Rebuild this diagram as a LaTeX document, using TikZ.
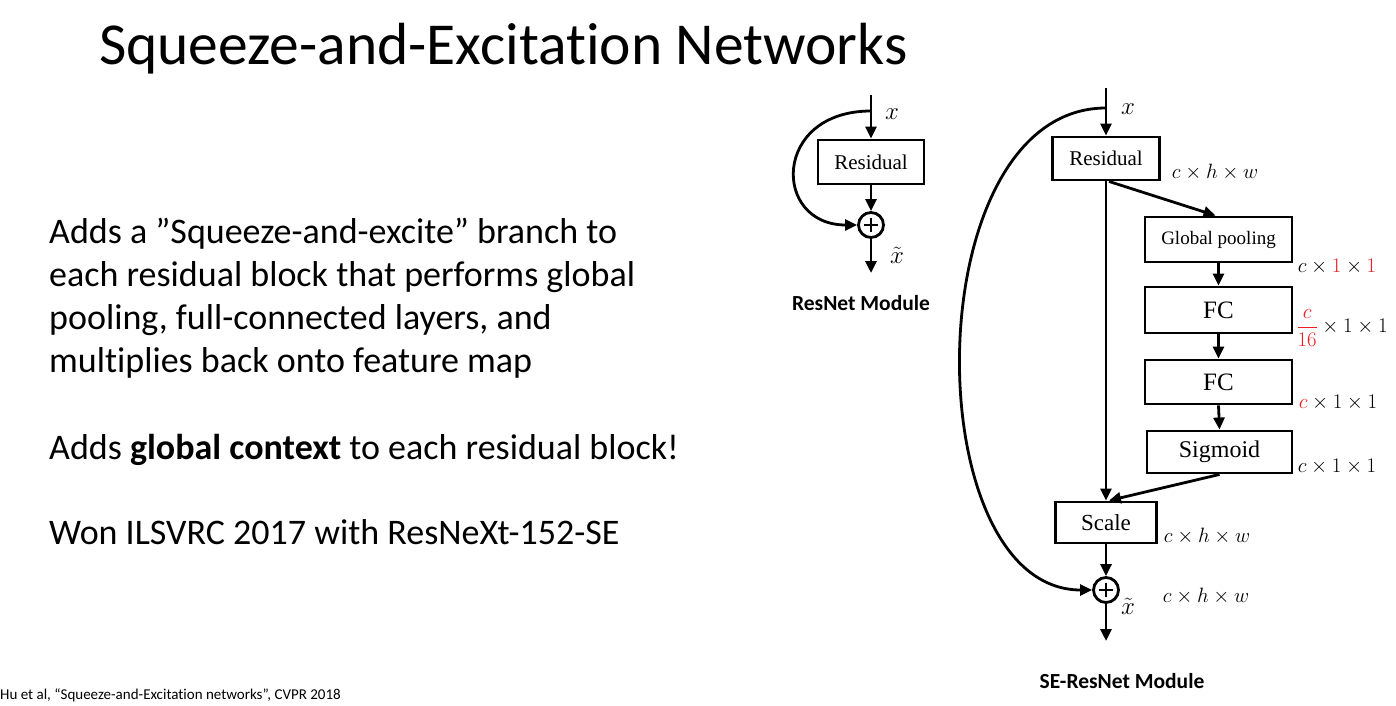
\documentclass[tikz,border=0pt]{standalone}
\usepackage{fontspec}
\setmainfont{Carlito}[Ligatures=NoCommon]
\newfontfamily\serifbox{Liberation Serif}
\usetikzlibrary{arrows.meta}
\definecolor{sered}{RGB}{235,30,35}
\begin{document}
\begin{tikzpicture}[x=1pt,y=-1pt,
  box/.style={draw,line width=2.9pt,inner sep=0pt,font=\serifbox\fontsize{21}{21}\selectfont},
  arr/.style={line width=2.8pt,-{Triangle[length=12pt,width=11pt]}},
  sumc/.style={circle,draw,line width=2.8pt,minimum size=25pt,inner sep=0pt,
    path picture={\draw[line width=1.2pt] ([xshift=-7pt]path picture bounding box.center) -- ([xshift=7pt]path picture bounding box.center);
                  \draw[line width=1.2pt] ([yshift=-7pt]path picture bounding box.center) -- ([yshift=7pt]path picture bounding box.center);}},
  dim/.style={font=\fontsize{22}{22}\selectfont,inner sep=0pt},
  var/.style={font=\fontsize{31}{31}\selectfont,inner sep=0pt},
  body/.style={anchor=base west,font=\fontsize{36}{36}\selectfont,inner sep=0pt},
  caption/.style={font=\bfseries\fontsize{21.5}{21.5}\selectfont,inner sep=0pt}]
\useasboundingbox (0,0) rectangle (1396,706);
\fill[white] (0,0) rectangle (1396,706);

% title and text
\node[anchor=base west,font=\fontsize{59.5}{59.5}\selectfont,inner sep=0pt] (title) at (99,65) {Squeeze-and-Excitation Networks};
\node[body] (p1) at (49,243) {Adds a ”Squeeze-and-excite” branch to};
\node[body] (p2) at (49,286) {each residual block that performs global};
\node[body] (p3) at (49,329) {pooling, full-connected layers, and};
\node[body] (p4) at (49,372) {multiplies back onto feature map};
\node[body] (p5) at (49,459) {Adds \textbf{global context} to each residual block!};
\node[body] (p6) at (49,544) {Won ILSVRC 2017 with ResNeXt-152-SE};
\node[anchor=base west,font=\fontsize{15}{15}\selectfont,inner sep=0pt] (cite) at (0,699) {Hu et al, “Squeeze-and-Excitation networks”, CVPR 2018};

% ResNet module
\coordinate (in1) at (871,95);
\coordinate (b1) at (871,111);
\node[box,minimum width=106pt,minimum height=44pt] (res1) at (871,162) {Residual};
\node[sumc] (sum1) at (871,225) {};
\coordinate (out1) at (871,273);
\draw[arr] (in1) -- (res1.north);
\draw[arr] (res1.south) -- (sum1.north);
\draw[arr] (sum1.south) -- (out1);
\draw[arr] (b1) .. controls (772,111) and (772,225) .. (sum1.west);
\node[var] (x1) at (892,114) {$x$};
\node[var] (xt1) at (897,255) {$\tilde{x}$};
\node[caption] (cap1) at (861,303) {ResNet Module};

% SE-ResNet module
\coordinate (in2) at (1106,88);
\coordinate (b2) at (1106,108);
\node[box,minimum width=107pt,minimum height=43pt] (res2) at (1106,158.5) {Residual};
\node[box,minimum width=147pt,minimum height=45pt,font=\serifbox\fontsize{19}{19}\selectfont] (gp) at (1218.5,239.5) {Global pooling};
\node[box,minimum width=147pt,minimum height=46pt,font=\serifbox\fontsize{25}{25}\selectfont] (fc1) at (1218.5,310) {FC};
\node[box,minimum width=147pt,minimum height=44pt,font=\serifbox\fontsize{25}{25}\selectfont] (fc2) at (1218.5,382) {FC};
\node[box,minimum width=145pt,minimum height=42pt,font=\serifbox\fontsize{24}{24}\selectfont] (sig) at (1219.5,452) {Sigmoid};
\node[box,minimum width=101pt,minimum height=41pt,font=\serifbox\fontsize{23}{23}\selectfont] (scale) at (1106,522.5) {Scale};
\node[sumc] (sum2) at (1106,590) {};
\coordinate (out2) at (1106,641);

\draw[arr] (in2) -- (res2.north);
\draw[arr] (res2.south) -- (scale.north);
\draw[arr] ([xshift=3pt]res2.south) -- ([xshift=-3pt]gp.north);
\draw[arr] (gp.south) -- (fc1.north);
\draw[arr] (fc1.south) -- (fc2.north);
\draw[arr] (fc2.south) -- (sig.north);
\draw[arr] (sig.south) -- ([xshift=3pt]scale.north);
\draw[arr] (scale.south) -- (sum2.north);
\draw[arr] (sum2.south) -- (out2);
\draw[arr] (b2) .. controls (915,108) and (915,590) .. (sum2.west);

\node[var] (x2) at (1128,109) {$x$};
\node[var] (xt2) at (1128,606) {$\tilde{x}$};
\node[dim] (d1) at (1215,172) {$c\times h\times w$};
\node[dim] (d2) at (1337,267) {$c\times{\color{sered}1}\times{\color{sered}1}$};
\node[dim] (d3) at (1342,328) {${\color{sered}\displaystyle\frac{c}{16}}\times 1\times 1$};
\node[dim] (d4) at (1338,403) {${\color{sered}c}\times 1\times 1$};
\node[dim] (d5) at (1337,467) {$c\times 1\times 1$};
\node[dim] (d6) at (1207,536) {$c\times h\times w$};
\node[dim] (d7) at (1206,596) {$c\times h\times w$};
\node[caption] (cap2) at (1122,681) {SE-ResNet Module};
\end{tikzpicture}
\end{document}
